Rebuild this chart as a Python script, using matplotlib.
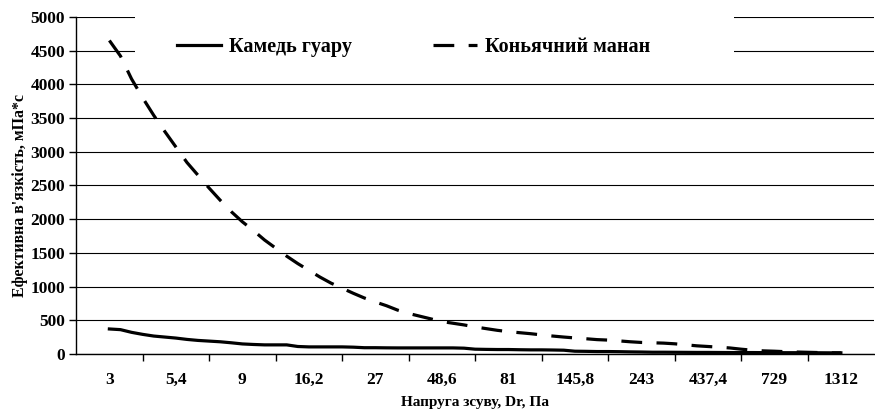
import numpy as np
import matplotlib
matplotlib.use("Agg")
import matplotlib.pyplot as plt
from matplotlib.patches import Rectangle

# ---- дані ----
tick_labels = ["3", "5,4", "9", "16,2", "27", "48,6", "81", "145,8",
               "243", "437,4", "729", "1312"]
pts_per_label = 6

guar = [370, 360, 320, 290, 265, 250, 235, 215, 200, 190, 180, 165,
        148, 140, 134, 134, 134, 110, 104, 104, 104, 104, 100, 92,
        92, 90, 89, 89, 89, 89, 89, 89, 85, 70, 67, 65,
        65, 62, 60, 60, 58, 55, 40, 38, 35, 35, 33, 30,
        28, 25, 25, 24, 23, 22, 22, 21, 20, 20, 20, 19,
        19, 18, 18, 17, 17, 16, 16]

konjac = [4650, 4420, 4080, 3800, 3540, 3300, 3070, 2840, 2650, 2460, 2280, 2110,
          1960, 1830, 1690, 1570, 1450, 1340, 1240, 1140, 1050, 975, 900, 830,
          770, 715, 650, 600, 560, 520, 480, 455, 430, 400, 375, 350,
          330, 315, 300, 282, 265, 250, 237, 225, 212, 205, 193, 180,
          170, 165, 160, 150, 135, 120, 110, 100, 88, 70, 55, 45,
          40, 33, 28, 24, 20, 16, 15]

series_names = ["Камедь гуару", "Коньячний манан"]

plt.rcParams['font.family'] = ['Liberation Serif', 'DejaVu Serif']
plt.rcParams['font.weight'] = 'bold'

fig = plt.figure(figsize=(8.75, 4.12), dpi=100)
ax = fig.add_axes([0.087, 0.141, 0.912, 0.818])

x = np.arange(len(guar))
ax.plot(x, guar, color='black', lw=2.3, label=series_names[0])
ax.plot(x, konjac, color='black', lw=2.3, dashes=(6.5, 4.5), label=series_names[1])

n_lab = len(tick_labels)
ax.set_xlim(-pts_per_label / 2, (n_lab - 0.5) * pts_per_label)
ax.set_ylim(0, 5000)
ax.set_yticks(np.arange(0, 5001, 500))

# межі категорій -- риски, центри -- підписи
ax.set_xticks(np.arange(pts_per_label / 2, (n_lab - 1) * pts_per_label, pts_per_label))
ax.set_xticklabels([])
ax.set_xticks(np.arange(n_lab) * pts_per_label, minor=True)
ax.set_xticklabels(tick_labels, minor=True)
ax.tick_params(axis='x', which='major', length=5, width=1, color='black')
ax.tick_params(axis='x', which='minor', length=0, pad=13, labelsize=12.5)
ax.tick_params(axis='y', length=5, width=1, labelsize=12.5, pad=3)

ax.yaxis.grid(True, color='black', lw=0.8)
ax.set_axisbelow(True)
for s in ['top', 'right']:
    ax.spines[s].set_visible(False)
ax.spines['left'].set_linewidth(1)
ax.spines['bottom'].set_linewidth(1)

ax.set_xlabel("Напруга зсуву, Dr, Па", fontsize=11, fontweight='bold', labelpad=6)
ax.set_ylabel("Ефективна в'язкість, мПа*с", fontsize=11.4, fontweight='bold')
ax.yaxis.set_label_coords(-0.060, 0.469)

# біле поле легенди, що перекриває лінії сітки
ax.add_patch(Rectangle((0.074, 0.84), 0.751, 0.19, transform=ax.transAxes,
                       facecolor='white', edgecolor='none', zorder=3, clip_on=False))

leg = ax.legend(loc='center left', bbox_to_anchor=(0.126, 0.911), ncol=2,
                frameon=False, prop={'size': 14.5, 'weight': 'bold'},
                handlelength=2.2, handletextpad=0.4, columnspacing=4.0,
                borderpad=0, borderaxespad=0)
leg.set_zorder(5)

fig.savefig("out.png", dpi=100)
